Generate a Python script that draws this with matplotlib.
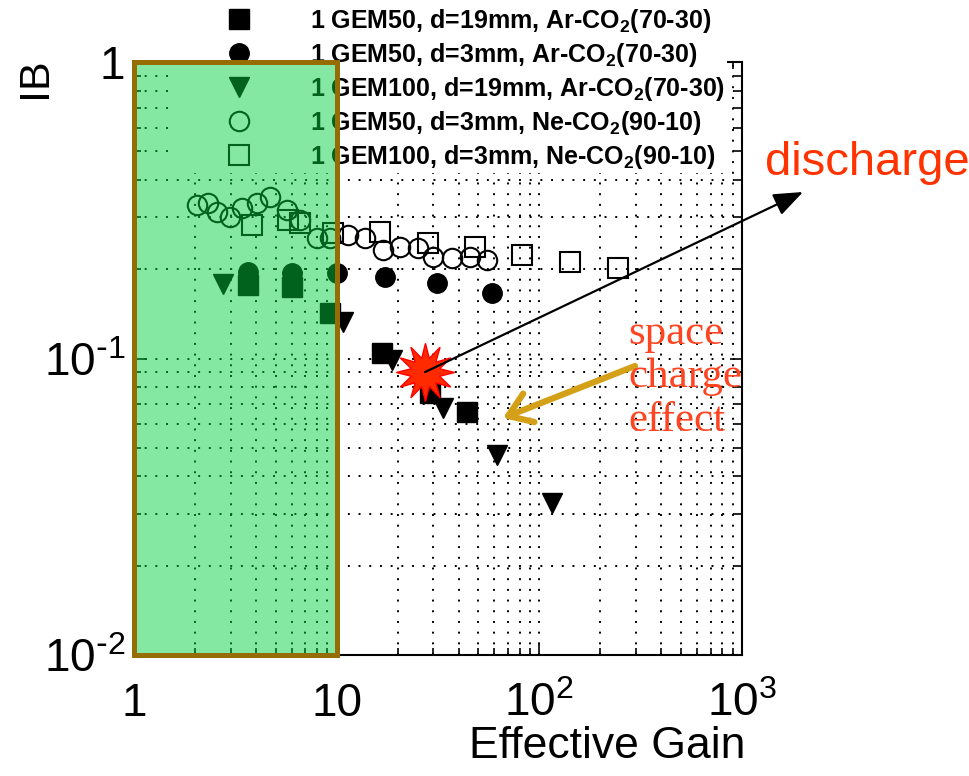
import matplotlib
matplotlib.use('Agg')
import matplotlib.pyplot as plt
from matplotlib.patches import Rectangle
from matplotlib.ticker import NullFormatter

plt.rcParams['font.family'] = ['Liberation Sans', 'DejaVu Sans']

W, H = 970, 776

# --- data ---
labels = [r"1 GEM50, d=19mm, Ar-CO$\mathregular{_2}$(70-30)",
          r"1 GEM50, d=3mm, Ar-CO$\mathregular{_2}$(70-30)",
          r"1 GEM100, d=19mm, Ar-CO$\mathregular{_2}$(70-30)",
          r"1 GEM50, d=3mm, Ne-CO$\mathregular{_2}$(90-10)",
          r"1 GEM100, d=3mm, Ne-CO$\mathregular{_2}$(90-10)"]

# 1 GEM50, d=19mm, Ar-CO2
gain_ar50_d19 = [3.65, 6.02, 9.27, 16.7, 28.9, 43.9]
ib_ar50_d19 = [0.177, 0.174, 0.142, 0.104, 0.0765, 0.066]
# 1 GEM50, d=3mm, Ar-CO2
gain_ar50_d3 = [3.65, 6.02, 10.0, 17.3, 31.2, 58.4]
ib_ar50_d3 = [0.196, 0.194, 0.194, 0.188, 0.180, 0.166]
# 1 GEM100, d=19mm, Ar-CO2
gain_ar100_d19 = [2.75, 6.02, 10.7, 18.7, 33.4, 61.8, 115]
ib_ar100_d19 = [0.178, 0.181, 0.133, 0.0989, 0.068, 0.0473, 0.0326]
# 1 GEM50, d=3mm, Ne-CO2
gain_ne50_d3 = [2.05, 2.32, 2.57, 2.98, 3.41, 4.05, 4.69, 5.68, 6.59, 8.0,
                9.27, 11.4, 13.8, 16.9, 20.5, 25.2, 29.9, 37.1, 45.5, 55.1]
ib_ne50_d3 = [0.330, 0.334, 0.312, 0.300, 0.322, 0.334, 0.350, 0.317, 0.293, 0.255,
              0.255, 0.261, 0.255, 0.232, 0.238, 0.236, 0.220, 0.218, 0.220, 0.215]
# 1 GEM100, d=3mm, Ne-CO2
gain_ne100_d3 = [3.82, 5.75, 6.59, 9.59, 16.4, 28.2, 48.1, 82.1, 141.6, 244]
ib_ne100_d3 = [0.282, 0.293, 0.286, 0.265, 0.267, 0.245, 0.238, 0.223, 0.212, 0.202]

# discharge point
discharge_gain = 27.3
discharge_ib = 0.090

xticks = [1, 10, 100, 1000]
xtick_labels = ['1', '10', r'$\mathregular{10^2}$', r'$\mathregular{10^3}$']
yticks = [0.01, 0.1, 1]
ytick_labels = [r'$\mathregular{10^{\text{-}2}}$', r'$\mathregular{10^{\text{-}1}}$', '1']


def fp(px, py):
    # figure pixel position measured from the top-left corner
    return (px, H - py)


fig = plt.figure(figsize=(W / 100, H / 100), dpi=100)
ax = fig.add_axes([134 / W, 1 - 655 / H, (742 - 134) / W, (655 - 62) / H])
ax.set_xscale('log')
ax.set_yscale('log')

ax.grid(True, which='both', color='black', linestyle=(0, (1, 4.5)), linewidth=1.4)
ax.set_axisbelow(True)

ax.plot(gain_ar50_d19, ib_ar50_d19, 's', color='black', ms=15, label=labels[0], zorder=3)
ax.plot(gain_ar50_d3, ib_ar50_d3, 'o', color='black', ms=14, label=labels[1], zorder=3)
ax.plot(gain_ar100_d19, ib_ar100_d19, 'v', color='black', ms=14, label=labels[2], zorder=3)
ax.plot(gain_ne50_d3, ib_ne50_d3, 'o', mfc='none', mec='black', mew=1.5, ms=14,
        label=labels[3], zorder=3)
ax.plot(gain_ne100_d3, ib_ne100_d3, 's', mfc='none', mec='black', mew=1.5, ms=15,
        label=labels[4], zorder=3)

ax.set_xlim(1, 1000)
ax.set_ylim(0.01, 1)
ax.set_xticks(xticks)
ax.set_xticklabels(xtick_labels)
ax.set_yticks(yticks)
ax.set_yticklabels(ytick_labels)
ax.xaxis.set_minor_formatter(NullFormatter())
ax.yaxis.set_minor_formatter(NullFormatter())
ax.tick_params(which='both', direction='in', top=True, right=True, width=1.2)
ax.tick_params(which='major', length=9)
ax.tick_params(which='minor', length=5)
ax.tick_params(axis='x', labelsize=33, pad=44)
ax.tick_params(axis='y', labelsize=33, pad=6.5)
for lbl in ax.get_xticklabels():
    lbl.set_verticalalignment('baseline')
for s in ax.spines.values():
    s.set_linewidth(1.5)

# white box behind the legend
ax.add_artist(Rectangle((175 / W, 1 - 173 / H), (727 - 175) / W, 173 / H,
                        transform=fig.transFigure, facecolor='white',
                        edgecolor='none', zorder=4, clip_on=False))

leg = ax.legend(loc='upper left', bbox_to_anchor=(222 / W, 1 - 7 / H),
                bbox_transform=fig.transFigure, frameon=False,
                prop={'weight': 'bold', 'size': 18}, handlelength=1.4,
                handletextpad=2.1, labelspacing=0.24, borderpad=0,
                borderaxespad=0, numpoints=1)
leg.set_zorder(5)

# green shaded region, gain < 10
ax.add_patch(Rectangle((1, 0.01), 9, 0.99, facecolor=(0, 0.81, 0.24, 0.48),
                       edgecolor='#966C04', linewidth=3.6, zorder=6, clip_on=False))

# discharge marker and arrow
ax.plot([discharge_gain], [discharge_ib], marker=(12, 1, 0), ms=42, color='#FF2A00',
        mec='#FF0000', mew=1, zorder=7)
ax.annotate('', xy=fp(803, 192), xycoords='figure pixels',
            xytext=(discharge_gain, discharge_ib), textcoords='data',
            arrowprops=dict(arrowstyle='-|>,head_length=0.9,head_width=0.35',
                            color='black', lw=1.6, shrinkA=0, shrinkB=0,
                            mutation_scale=20),
            annotation_clip=False, zorder=8)
fig.text(765 / W, 1 - 163 / H, 'discharge', color='#FF3300', fontsize=34,
         ha='left', va='center')

# space charge arrow
ax.annotate('', xy=fp(503, 418), xycoords='figure pixels',
            xytext=fp(635, 366), textcoords='figure pixels',
            arrowprops=dict(arrowstyle='->,head_length=0.8,head_width=0.55',
                            color='#D4A017', lw=4.5, shrinkA=0, shrinkB=0,
                            mutation_scale=20),
            annotation_clip=False, zorder=8)
fig.text(628 / W, 1 - 377 / H, 'space\ncharge\neffect', family='Liberation Serif',
         fontsize=31, color='#FF4422', ha='left', va='center', linespacing=1.17)

fig.text(35 / W, 1 - 78 / H, 'IB', rotation=90, fontsize=31, ha='center', va='center')
fig.text(745 / W, 1 - 747 / H, 'Effective Gain', fontsize=32, ha='right', va='center')

fig.savefig('out.png', dpi=100)
